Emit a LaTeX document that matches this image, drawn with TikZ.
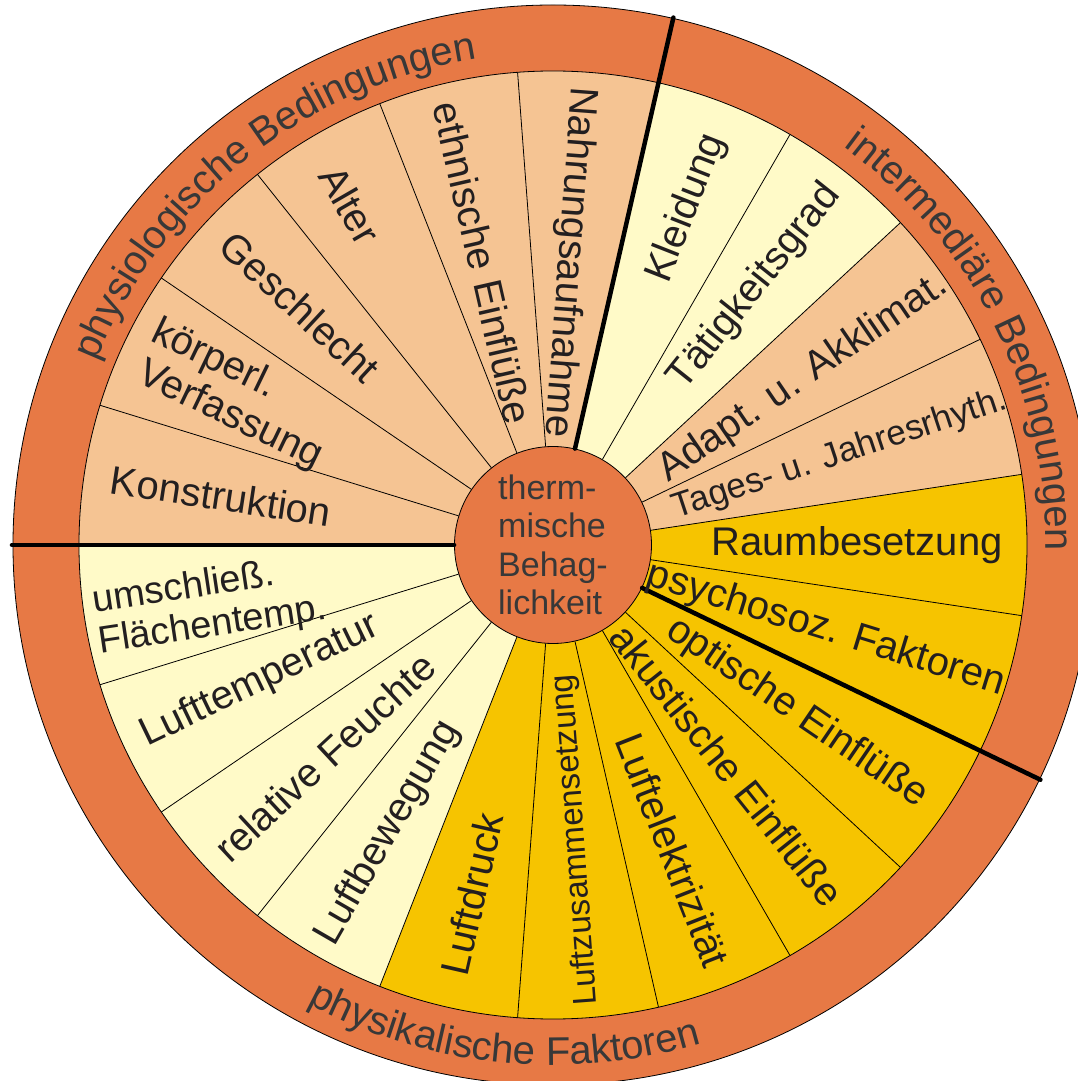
\documentclass[tikz,border=0pt]{standalone}
\usepackage{fontspec}
\setmainfont{Liberation Sans}
\usetikzlibrary{decorations.text}
\definecolor{ringorange}{HTML}{E77945}
\definecolor{peach}{HTML}{F5C493}
\definecolor{paleyellow}{HTML}{FFFAC8}
\definecolor{gold}{HTML}{F6C400}
\definecolor{segtext}{HTML}{231F20}
\definecolor{ringtext}{HTML}{383838}
\newcommand\segfont{\fontsize{40}{44}\selectfont}
\newcommand\smallsegfont{\fontsize{33}{38}\selectfont}
\newcommand\ringfont{\fontsize{40}{44}\selectfont}
\newcommand\hubfont{\fontsize{34}{38.5}\selectfont}
\begin{document}
\begin{tikzpicture}[x=1pt,y=1pt,
  seg/.style={font=\segfont,text=segtext,inner sep=0pt},
  smallseg/.style={font=\smallsegfont,text=segtext,inner sep=0pt},
  thinline/.style={line width=0.8pt,draw=black},
  sepline/.style={line width=4.5pt,draw=black,line cap=round},
  ringlabel/.style={decorate,decoration={text along path,text align=center,text color=ringtext}}
]
\useasboundingbox (-553,-536) rectangle (525,545);
\clip (-553,-536) rectangle (525,545);
% outer ring
\draw[thinline,fill=ringorange] (0,0) circle[radius=540];
% segments
\foreach \k/\c in {0/peach,1/peach,2/peach,3/peach,4/peach,5/peach,6/paleyellow,7/paleyellow,8/peach,9/peach,10/gold,11/gold,12/gold,13/gold,14/gold,15/gold,16/gold,17/paleyellow,18/paleyellow,19/paleyellow,20/paleyellow}{
  \pgfmathsetmacro\a{180-\k*360/21}
  \pgfmathsetmacro\b{180-(\k+1)*360/21}
  \fill[\c] (0,0) -- (\a:474) arc[start angle=\a, end angle=\b, radius=474] -- cycle;
}
\draw[thinline] (0,0) circle[radius=474];
% hub
\node[circle,draw=black,line width=0.8pt,fill=ringorange,minimum size=197pt,inner sep=0pt,
  text=ringtext,font=\hubfont,align=left] (hub) at (0,0) {therm-\\mische\\Behag-\\lichkeit};
% radial lines
\foreach \k in {0,...,20}{
  \pgfmathsetmacro\a{180-\k*360/21}
  \draw[thinline] (hub) -- (\a:474);
}
% thick separators
\coordinate (sepA) at (180:541);
\coordinate (sepB) at (77.142857:541);
\coordinate (sepC) at (-25.714286:541);
\draw[sepline] (hub) -- (sepA);
\draw[sepline] (hub) -- (sepB);
\draw[sepline] (hub) -- (sepC);
% ring labels
\path[ringlabel,decoration={text={|\ringfont|physiologische Bedingungen}}]
  (178:492) arc[start angle=178, end angle=79, radius=492];
\path[ringlabel,decoration={text={|\ringfont|intermediäre Bedingungen}}]
  (76:493) arc[start angle=76, end angle=-22.8, radius=493];
\path[ringlabel,decoration={text={|\ringfont|physikalische Faktoren}}]
  (-145:520) arc[start angle=-145, end angle=-46.6, radius=520];
% physiological
\node[seg,rotate=-94.29] (nahrung) at (16,283) {Nahrungsaufnahme};
\node[seg,rotate=-77.14] (ethnisch) at (-70,282) {ethnische Einflüße};
\node[seg,rotate=-60] (alter) at (-203,340) {Alter};
\node[seg,rotate=-42.86] (geschlecht) at (-253,238) {Geschlecht};
\node[seg,rotate=-25.71,align=left] (verfassung) at (-316,150) {körperl.\\\hspace*{5pt}Verfassung};
\node[seg,rotate=-8.57] (konstruktion) at (-332,49) {Konstruktion};
% intermediate
\node[seg,rotate=68.57] (kleidung) at (134,337) {Kleidung};
\node[seg,rotate=51.43] (taetigkeit) at (202,258) {Tätigkeitsgrad};
\node[seg,rotate=34.29] (adapt) at (250,167) {Adapt. u. Akklimat.};
\node[font=\fontsize{35}{40}\selectfont,text=segtext,inner sep=0pt,rotate=18.3] (tages) at (287,90) {Tages- u. Jahresrhyth.};
\node[seg] (raum) at (304,0) {Raumbesetzung};
\node[seg,rotate=-17.14] (psycho) at (273,-85) {psychosoz. Faktoren};
% physical
\node[seg,rotate=-34.29] (optisch) at (244,-168) {optische Einflüße};
\node[seg,rotate=-51.43] (akustisch) at (174,-220) {akustische Einflüße};
\node[seg,rotate=-68.57] (elektr) at (120,-305) {Luftelektrizität};
\node[smallseg,rotate=94.29] (zusammen) at (23,-295) {Luftzusammensetzung};
\node[seg,rotate=77.14] (druck) at (-81,-349) {Luftdruck};
\node[seg,rotate=60] (bewegung) at (-165,-288) {Luftbewegung};
\node[seg,rotate=42.86] (feuchte) at (-228,-212) {relative Feuchte};
\node[seg,rotate=25.71] (lufttemp) at (-293,-136) {Lufttemperatur};
\node[seg,rotate=8.57,align=left,font=\fontsize{38}{41}\selectfont] (flaechen) at (-343,-61) {umschließ.\\Flächentemp.};
\end{tikzpicture}
\end{document}
